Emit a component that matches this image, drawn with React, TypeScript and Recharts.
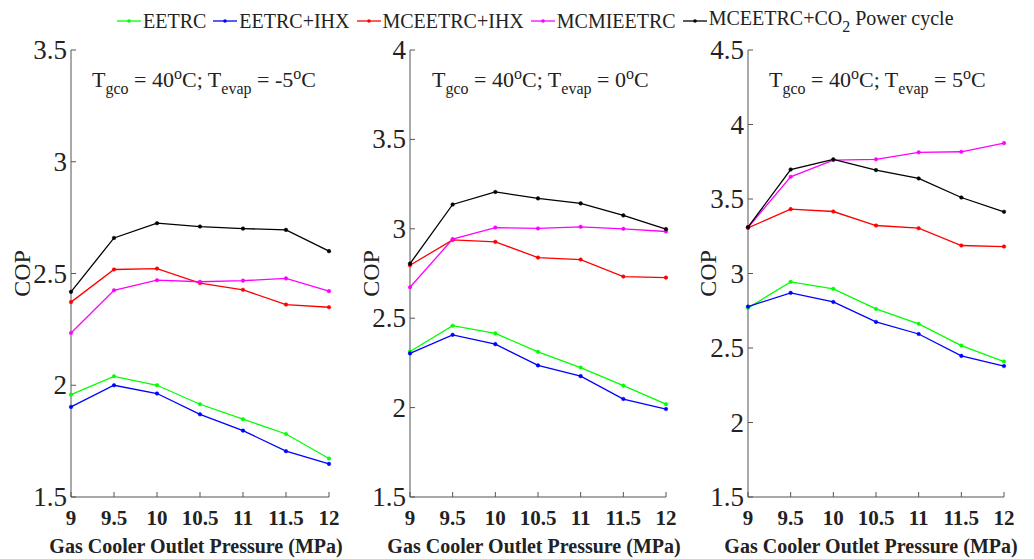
import React from "react";
import { LineChart, Line, XAxis, YAxis } from "recharts";

const pressures = [9, 9.5, 10, 10.5, 11, 11.5, 12];

const seriesKeys = ["eetrc", "eetrcIhx", "mceetrcIhx", "mcmieetrc", "co2Power"];
const seriesNames = ["EETRC", "EETRC+IHX", "MCEETRC+IHX", "MCMIEETRC", "MCEETRC+CO2 Power cycle"];
const seriesColors = ["#00ff00", "#0000ff", "#ff0000", "#ff00ff", "#000000"];

// Tevap = -5 C
const eetrcM5 = [1.958, 2.04, 2.0, 1.915, 1.848, 1.782, 1.672];
const eetrcIhxM5 = [1.903, 2.0, 1.963, 1.87, 1.797, 1.705, 1.648];
const mceetrcIhxM5 = [2.372, 2.518, 2.522, 2.457, 2.427, 2.361, 2.349];
const mcmieetrcM5 = [2.234, 2.425, 2.47, 2.463, 2.468, 2.478, 2.421];
const co2PowerM5 = [2.418, 2.659, 2.725, 2.71, 2.701, 2.695, 2.6];

// Tevap = 0 C
const eetrc0 = [2.314, 2.458, 2.415, 2.312, 2.224, 2.123, 2.019];
const eetrcIhx0 = [2.303, 2.407, 2.355, 2.236, 2.176, 2.048, 1.992];
const mceetrcIhx0 = [2.796, 2.938, 2.927, 2.839, 2.828, 2.733, 2.727];
const mcmieetrc0 = [2.673, 2.942, 3.007, 3.002, 3.011, 3.0, 2.985];
const co2Power0 = [2.805, 3.136, 3.206, 3.17, 3.142, 3.075, 2.998];

// Tevap = 5 C
const eetrc5 = [2.769, 2.944, 2.897, 2.762, 2.662, 2.516, 2.409];
const eetrcIhx5 = [2.778, 2.87, 2.809, 2.675, 2.594, 2.447, 2.379];
const mceetrcIhx5 = [3.306, 3.432, 3.416, 3.322, 3.304, 3.188, 3.181];
const mcmieetrc5 = [3.309, 3.649, 3.761, 3.766, 3.813, 3.817, 3.875];
const co2Power5 = [3.311, 3.698, 3.766, 3.694, 3.638, 3.51, 3.414];

const yTicksM5 = [1.5, 2, 2.5, 3, 3.5];
const yTicks0 = [1.5, 2, 2.5, 3, 3.5, 4];
const yTicks5 = [1.5, 2, 2.5, 3, 3.5, 4, 4.5];

const evapLabels = ["-5", "0", "5"];

const makeRows = (series: number[][]) =>
  pressures.map((p, i) => {
    const row: Record<string, number> = { p };
    seriesKeys.forEach((k, j) => (row[k] = series[j][i]));
    return row;
  });

// charts overlap a little so the x titles are not clipped (svg is transparent)
const panels = [
  {
    left: 0, width: 370, yWidth: 71, right: 41, copX: 22, noteX: 92, titleShift: -4,
    yTicks: yTicksM5, evap: evapLabels[0],
    rows: makeRows([eetrcM5, eetrcIhxM5, mceetrcIhxM5, mcmieetrcM5, co2PowerM5]),
  },
  {
    left: 340, width: 370, yWidth: 70, right: 44, copX: 31, noteX: 432, titleShift: -4,
    yTicks: yTicks0, evap: evapLabels[1],
    rows: makeRows([eetrc0, eetrcIhx0, mceetrcIhx0, mcmieetrc0, co2Power0]),
  },
  {
    left: 680, width: 354, yWidth: 68, right: 30, copX: 28, noteX: 769, titleShift: -5,
    yTicks: yTicks5, evap: evapLabels[2],
    rows: makeRows([eetrc5, eetrcIhx5, mceetrcIhx5, mcmieetrc5, co2Power5]),
  },
];

const FONT = "Liberation Serif";
const frame = "#555";
const textColor = "#222";

const subStyle: React.CSSProperties = { fontSize: 16, position: "relative", top: 7 };
const supStyle: React.CSSProperties = { fontSize: 16, position: "relative", top: -8 };

const XTick = (props: any) => (
  <text
    x={props.x}
    y={props.y}
    dy={16}
    textAnchor="middle"
    fontFamily={FONT}
    fontSize={21}
    fontWeight="bold"
    fill={textColor}
  >
    {props.payload.value}
  </text>
);

const YTick = (props: any) => (
  <text
    x={props.x}
    y={props.y}
    dy={9}
    textAnchor="end"
    fontFamily={FONT}
    fontSize={27}
    fill={textColor}
  >
    {props.payload.value}
  </text>
);

const LegendName = ({ name }: { name: string }) => {
  if (name.includes("CO2")) {
    const [a, b] = name.split("CO2");
    return (
      <span style={{ position: "relative", top: -2 }}>
        {a}CO<span style={subStyle}>2</span>
        {b}
      </span>
    );
  }
  return <span>{name}</span>;
};

const Panel = ({ cfg }: { cfg: (typeof panels)[number] }) => {
  const yDomain = [cfg.yTicks[0], cfg.yTicks[cfg.yTicks.length - 1]];
  return (
    <LineChart
      width={cfg.width}
      height={559}
      data={cfg.rows}
      margin={{ top: 50, right: cfg.right, bottom: 0, left: 0 }}
      style={{ fontFamily: FONT }}
    >
      <XAxis
        xAxisId="b"
        dataKey="p"
        type="number"
        domain={[9, 12]}
        ticks={pressures}
        interval={0}
        height={62}
        tickSize={-5}
        tickMargin={17}
        stroke={frame}
        tick={<XTick />}
        label={{
          content: (props: any) => {
            const vb = props.viewBox || {};
            const cx = (vb.x || 0) + (vb.width || 0) / 2 + cfg.titleShift;
            return (
              <text
                x={cx}
                y={553}
                textAnchor="middle"
                fontSize={20}
                fontWeight="bold"
                fontFamily={FONT}
                fill={textColor}
              >
                Gas Cooler Outlet Pressure (MPa)
              </text>
            );
          },
        }}
      />
      <XAxis
        xAxisId="t"
        orientation="top"
        dataKey="p"
        type="number"
        domain={[9, 12]}
        ticks={pressures}
        interval={0}
        height={0}
        tickSize={-5}
        stroke={frame}
        tick={() => <g />}
      />
      <YAxis
        yAxisId="l"
        type="number"
        domain={yDomain}
        ticks={cfg.yTicks}
        interval={0}
        width={cfg.yWidth}
        tickSize={-5}
        tickMargin={9}
        stroke={frame}
        tick={<YTick />}
        label={{
          content: (props: any) => {
            const vb = props.viewBox || {};
            const cx = (vb.x || 0) + cfg.copX;
            const cy = (vb.y || 0) + (vb.height || 0) / 2;
            return (
              <text
                x={cx}
                y={cy}
                transform={`rotate(-90 ${cx} ${cy})`}
                textAnchor="middle"
                dominantBaseline="central"
                fontSize={24}
                fontFamily={FONT}
                fill={textColor}
              >
                COP
              </text>
            );
          },
        }}
      />
      <YAxis
        yAxisId="r"
        orientation="right"
        type="number"
        domain={yDomain}
        ticks={cfg.yTicks}
        interval={0}
        width={0}
        tickSize={-5}
        stroke={frame}
        tick={() => <g />}
      />
      {seriesKeys.map((k, j) => (
        <Line
          key={k}
          xAxisId="b"
          yAxisId="l"
          type="linear"
          dataKey={k}
          name={seriesNames[j]}
          stroke={seriesColors[j]}
          strokeWidth={1.3}
          dot={{ r: 1.8, fill: seriesColors[j], stroke: seriesColors[j], strokeWidth: 0.5 }}
          activeDot={false}
          isAnimationActive={false}
        />
      ))}
    </LineChart>
  );
};

export default function App() {
  return (
    <div
      style={{
        position: "absolute",
        left: 0,
        top: 0,
        width: 1034,
        height: 559,
        background: "#fff",
        fontFamily: FONT,
        color: textColor,
        overflow: "hidden",
      }}
    >
      {panels.map((cfg, i) => (
        <div key={i} style={{ position: "absolute", left: cfg.left, top: 0 }}>
          <Panel cfg={cfg} />
        </div>
      ))}

      {panels.map((cfg, i) => (
        <div
          key={"n" + i}
          style={{
            position: "absolute",
            left: cfg.noteX,
            top: 69,
            fontSize: 22,
            lineHeight: "22px",
            whiteSpace: "nowrap",
          }}
        >
          T<span style={subStyle}>gco</span> = 40<span style={supStyle}>o</span>C; T
          <span style={subStyle}>evap</span> = {cfg.evap}
          <span style={supStyle}>o</span>C
        </div>
      ))}

      <div
        style={{
          position: "absolute",
          left: 117,
          top: 10,
          display: "flex",
          alignItems: "center",
          fontSize: 20,
          lineHeight: "20px",
          whiteSpace: "nowrap",
        }}
      >
        {seriesNames.map((name, j) => (
          <div key={name} style={{ display: "flex", alignItems: "center", marginRight: 7 }}>
            <svg width={24} height={8} style={{ marginRight: 2 }}>
              <line x1={0} y1={4} x2={24} y2={4} stroke={seriesColors[j]} strokeWidth={1.3} />
              <circle cx={12} cy={4} r={1.8} fill={seriesColors[j]} />
            </svg>
            <LegendName name={name} />
          </div>
        ))}
      </div>
    </div>
  );
}
